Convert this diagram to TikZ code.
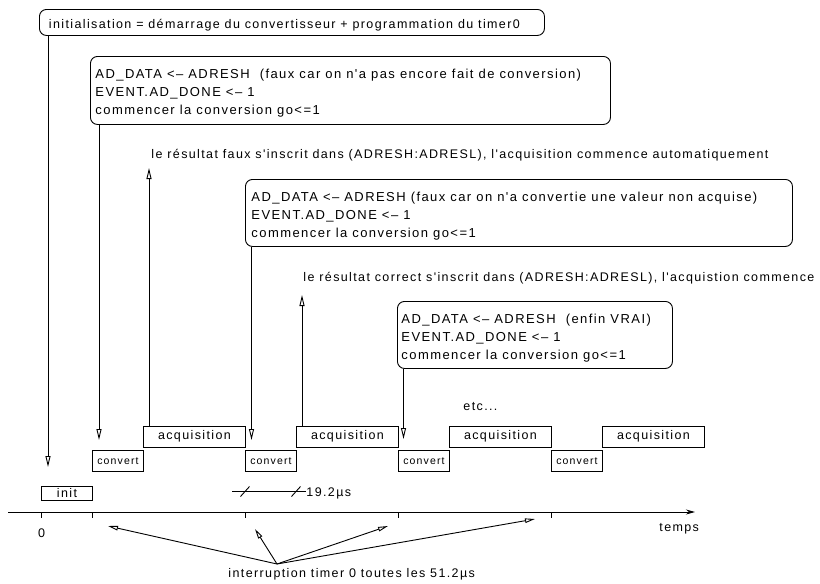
\documentclass[tikz,border=0pt]{standalone}
\usepackage{fontspec}
\setmainfont{Liberation Sans}[LetterSpace=11, Ligatures=TeXOff]
\usetikzlibrary{arrows.meta}
\newcommand{\bigf}{\fontsize{12.5}{18}\selectfont}
\newcommand{\boxf}{\fontsize{13}{18}\selectfont}
\newcommand{\smallf}{\fontsize{10.5}{13}\selectfont}
\begin{document}
\begin{tikzpicture}[x=1pt,y=-1pt, line width=0.9pt,
  rbox/.style={draw, rounded corners=7pt, inner sep=0pt, anchor=north west},
  tbox/.style={draw, inner sep=0pt, anchor=north west, font=\bigf},
  cbox/.style={draw, inner sep=0pt, anchor=north west, font=\smallf, minimum width=51pt, minimum height=21pt},
  abox/.style={draw, inner sep=0pt, anchor=north west, font=\bigf, minimum width=102pt, minimum height=20.5pt},
  txt/.style={inner sep=0pt, anchor=base west, font=\bigf},
  btxt/.style={inner sep=0pt, anchor=base west, font=\boxf},
  darr/.style={-{Triangle[open,length=11pt,width=5pt]}},
  iarr/.style={-{Triangle[open,length=10pt,width=4.5pt]}},
]
\useasboundingbox (0,0) rectangle (820,584);

% top rounded boxes
\node[rbox, minimum width=505pt, minimum height=26pt] (b1) at (39,9) {};
\node[txt] (t1) at (48.5,28.5) {initialisation = démarrage du convertisseur + programmation du timer0};

\node[rbox, minimum width=520pt, minimum height=68pt] (b2) at (90,56) {};
\node[btxt] (t21) at (95,78) {AD\_DATA <– ADRESH\ \ (faux car on n'a pas encore fait de conversion)};
\node[btxt] (t22) at (95,96) {EVENT.AD\_DONE <– 1};
\node[btxt] (t23) at (95,114) {commencer la conversion go<=1};

\node[txt] (r1) at (151,158) {le résultat faux s'inscrit dans (ADRESH:ADRESL), l'acquisition commence automatiquement};

\node[rbox, minimum width=547pt, minimum height=67pt] (b3) at (245,179) {};
\node[btxt] (t31) at (251,201) {AD\_DATA <– ADRESH (faux car on n'a convertie une valeur non acquise)};
\node[btxt] (t32) at (251,219) {EVENT.AD\_DONE <– 1};
\node[btxt] (t33) at (251,237) {commencer la conversion go<=1};

\node[txt] (r2) at (303,281) {le résultat correct s'inscrit dans (ADRESH:ADRESL), l'acquistion commence};

\node[rbox, minimum width=275pt, minimum height=67pt] (b4) at (397,301) {};
\node[btxt] (t41) at (401,323) {AD\_DATA <– ADRESH\ \ (enfin VRAI)};
\node[btxt] (t42) at (401,341) {EVENT.AD\_DONE <– 1};
\node[btxt] (t43) at (401,359) {commencer la conversion go<=1};

\node[txt] (etc) at (463,410) {etc...};

% timeline boxes
\node[tbox, minimum width=51pt, minimum height=14pt] (init) at (41,486) {init};
\node[cbox] (c1) at (92,450) {convert};
\node[cbox] (c2) at (245,450) {convert};
\node[cbox] (c3) at (398,450) {convert};
\node[cbox] (c4) at (551,450) {convert};
\node[abox] (a1) at (143,426) {acquisition};
\node[abox] (a2) at (296,426) {acquisition};
\node[abox] (a3) at (449,426) {acquisition};
\node[abox] (a4) at (602,426) {acquisition};

% down arrows
\coordinate (d1) at (48,467);
\coordinate (d2) at (99,440);
\coordinate (d3) at (251.5,440);
\coordinate (d4) at (403.5,439);
\draw[darr] (b1.south -| d1) -- (d1);
\draw[darr] (b2.south -| d2) -- (d2);
\draw[darr] (b3.south -| d3) -- (d3);
\draw[darr] (b4.south -| d4) -- (d4);

% up arrows
\coordinate (u1) at (149,168);
\coordinate (u2) at (302,295);
\draw[darr] (a1.north -| u1) -- (u1);
\draw[darr] (a2.north -| u2) -- (u2);

% 19.2 dimension
\coordinate (m0) at (232,491.5);
\node[txt] (dim) at (306,496.5) {19.2µs};
\draw (m0) -- (dim.west |- m0);
\draw (240.5,496.5) -- (249.5,486.5);
\draw (291.5,496.5) -- (300.5,486.5);

% time axis
\coordinate (ax0) at (8,512);
\coordinate (ax1) at (695,512);
\draw[-{Stealth[length=9pt,width=5pt]}] (ax0) -- (ax1);
\foreach \x in {41,92,245,398,551} \draw (\x,512) -- (\x,518);
\node[font=\bigf, inner sep=0pt] (zero) at (41.5,533) {0};
\node[txt] (temps) at (659,531) {temps};

% interruptions
\node[txt] (itxt) at (228,577) {interruption timer 0 toutes les 51.2µs};
\coordinate (src) at (277,564);
\coordinate (i1) at (108,526);
\coordinate (i2) at (255,529);
\coordinate (i3) at (388,526);
\coordinate (i4) at (535,519);
\foreach \t in {i1,i2,i3,i4} \draw[iarr] (src) -- (\t);
\end{tikzpicture}
\end{document}
